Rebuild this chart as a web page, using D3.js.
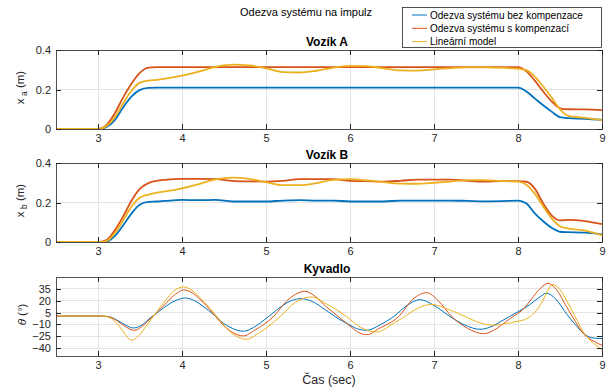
<!DOCTYPE html>
<html lang="cs">
<head>
<meta charset="UTF-8">
<title>Odezva systému na impulz</title>
<script src="https://d3js.org/d3.v7.min.js"></script>
<style>
  body { margin: 0; background: #fff; }
  text { font-family: "Liberation Sans", Arial, Helvetica, sans-serif; fill: #262626; }
</style>
</head>
<body>
<script>
// --- data ---
var seriesNames = ["Odezva systému bez kompenzace", "Odezva systému s kompenzací", "Lineární model"];
var seriesColors = ["#0072BD", "#D95319", "#EDB120"];

var xTicks = [3, 4, 5, 6, 7, 8, 9];
var cartTicks = [0, 0.2, 0.4];
var pendTicks = [-40, -25, -10, 5, 20, 35];

// time grid for both carts
var tCart = [2.5, 3.0, 3.1, 3.2, 3.3, 3.4, 3.5, 3.6, 3.7, 3.8,
             4.0, 4.2, 4.4, 4.6, 4.8, 5.0, 5.2, 5.4, 5.6, 5.8, 6.0, 6.2, 6.4, 6.6, 6.8,
             7.0, 7.2, 7.4, 7.6, 7.8, 8.0,
             8.1, 8.2, 8.3, 8.4, 8.5, 8.6, 8.8, 9.0];

// Vozík A
var xaBez  = [0, 0, 0.01, 0.045, 0.11, 0.165, 0.198, 0.208, 0.209, 0.209,
              0.209, 0.209, 0.209, 0.209, 0.209, 0.209, 0.209, 0.209, 0.209, 0.209, 0.209, 0.209, 0.209, 0.209, 0.209,
              0.209, 0.209, 0.209, 0.209, 0.209, 0.209,
              0.19, 0.155, 0.12, 0.088, 0.06, 0.055, 0.052, 0.046];
var xaKomp = [0, 0, 0.02, 0.08, 0.16, 0.23, 0.285, 0.311, 0.313, 0.313,
              0.313, 0.313, 0.313, 0.313, 0.313, 0.313, 0.313, 0.313, 0.313, 0.313, 0.313, 0.313, 0.313, 0.313, 0.313,
              0.313, 0.313, 0.313, 0.313, 0.313, 0.313,
              0.292, 0.245, 0.19, 0.14, 0.105, 0.1, 0.099, 0.096];
var xaLin  = [0, 0, 0.015, 0.06, 0.13, 0.195, 0.235, 0.245, 0.249, 0.255,
              0.27, 0.29, 0.315, 0.326, 0.322, 0.307, 0.288, 0.286, 0.295, 0.31, 0.32, 0.318, 0.307, 0.297, 0.296,
              0.302, 0.308, 0.312, 0.312, 0.31, 0.305,
              0.298, 0.265, 0.215, 0.16, 0.1, 0.066, 0.056, 0.045];

// Vozík B
var xbBez  = [0, 0, 0.002, 0.03, 0.085, 0.145, 0.19, 0.203, 0.205, 0.208,
              0.213, 0.212, 0.213, 0.205, 0.205, 0.205, 0.21, 0.212, 0.21, 0.21, 0.205, 0.205, 0.205, 0.21, 0.21,
              0.21, 0.21, 0.208, 0.206, 0.207, 0.209,
              0.195, 0.145, 0.105, 0.072, 0.052, 0.05, 0.047, 0.039];
var xbKomp = [0, 0, 0.01, 0.06, 0.13, 0.21, 0.27, 0.298, 0.31, 0.315,
              0.32, 0.32, 0.318, 0.31, 0.307, 0.306, 0.31, 0.318, 0.318, 0.318, 0.31, 0.308, 0.306, 0.31, 0.316,
              0.316, 0.316, 0.31, 0.306, 0.308, 0.308,
              0.305, 0.27, 0.195, 0.135, 0.11, 0.112, 0.106, 0.09];
var xbLin  = [0, 0, 0.005, 0.045, 0.11, 0.18, 0.225, 0.24, 0.25, 0.256,
              0.272, 0.293, 0.317, 0.326, 0.32, 0.303, 0.288, 0.288, 0.298, 0.315, 0.318, 0.312, 0.303, 0.296, 0.295,
              0.3, 0.306, 0.313, 0.313, 0.308, 0.306,
              0.29, 0.245, 0.18, 0.12, 0.08, 0.068, 0.058, 0.034];

// Kyvadlo (key points: extremes and crossings)
var thBezT = [2.5, 3.05, 3.15, 3.25, 3.33, 3.42, 3.52, 3.62, 3.72, 3.82, 3.92, 4.04, 4.15, 4.25, 4.38, 4.5, 4.6, 4.73,
              4.85, 5.03, 5.2, 5.3, 5.42, 5.55, 5.7, 5.82, 6.0, 6.1, 6.2, 6.35, 6.52, 6.68, 6.83, 7.0, 7.19, 7.37, 7.55,
              7.7, 7.8, 7.9, 8.0, 8.14, 8.25, 8.34, 8.45, 8.58, 8.68, 8.78, 8.88, 9.0];
var thBezV = [0.5, 0.5, -1, -6, -11, -14.5, -11, -2, 6, 14, 20, 23.4, 20, 13, 2, -9, -15, -18.7,
              -14, 0, 14, 20, 22.6, 19, 9, 0, -11, -16, -17.5, -11, 0, 14, 21.3, 14, 0, -11, -16.2,
              -12, -6, 0, 6, 15, 24, 29.5, 22, 3, -10, -21, -27, -28];
var thKompT = [2.5, 3.05, 3.15, 3.25, 3.33, 3.43, 3.53, 3.62, 3.72, 3.82, 3.92, 4.02, 4.12, 4.25, 4.4, 4.5, 4.6, 4.73,
               4.87, 5.09, 5.25, 5.35, 5.46, 5.58, 5.72, 5.86, 6.0, 6.1, 6.2, 6.35, 6.58, 6.75, 6.91, 7.05, 7.21, 7.4, 7.59,
               7.75, 7.85, 7.94, 8.05, 8.16, 8.26, 8.36, 8.45, 8.58, 8.68, 8.78, 8.88, 9.0];
var thKompV = [0.5, 0.5, -1, -7, -13, -17.5, -12, -3, 7, 18, 28, 33.6, 30, 18, 0, -12, -20, -24.6,
               -17, 0, 20, 28, 31.9, 26, 12, 0, -12, -20, -23, -15, 0, 22, 30.2, 20, 0, -15, -21.7,
               -15, -7, 0, 8, 22, 35, 42, 35, 12, -6, -22, -30, -36.5];
var thLinT = [2.5, 3.05, 3.15, 3.25, 3.32, 3.4, 3.48, 3.58, 3.7, 3.8, 3.9, 4.02, 4.12, 4.25, 4.4, 4.55, 4.65, 4.77,
              4.9, 5.17, 5.35, 5.54, 5.7, 5.96, 6.1, 6.32, 6.5, 6.65, 6.8, 6.97, 7.15, 7.37, 7.55, 7.71,
              7.85, 8.0, 8.1, 8.18, 8.25, 8.3, 8.35, 8.41, 8.5, 8.58, 8.68, 8.78, 8.9, 9.0];
var thLinV = [0.5, 0.5, -2, -12, -22, -30, -25, -11, 6, 20, 32, 37.4, 33, 20, 2, -17, -25, -28.9,
              -22, 0, 18, 24.7, 17, 0, -12, -19.6, -10, 0, 10, 15.4, 10, 0, -8, -11,
              -9, -6, -3, 3, 12, 21, 32, 40.5, 34, 20, 0, -20, -34, -42];

// --- layout ---
var w = 615, h = 391;
var left = 56, right = 602;

var svg = d3.select("body").append("svg")
    .attr("width", w)
    .attr("height", h);

var x = d3.scaleLinear().domain([2.5, 9]).range([left, right]);

function pts(t, v) { return t.map((d, i) => [d, v[i]]); }

var panels = [
    { top: 50, bottom: 129, domain: [0, 0.4], ticks: cartTicks, fmt: d3.format(".1~f"),
      title: "Vozík A", sub: "a", lw: 1.8,
      lines: [pts(tCart, xaBez), pts(tCart, xaKomp), pts(tCart, xaLin)] },
    { top: 163, bottom: 242, domain: [0, 0.4], ticks: cartTicks, fmt: d3.format(".1~f"),
      title: "Vozík B", sub: "b", lw: 1.8,
      lines: [pts(tCart, xbBez), pts(tCart, xbKomp), pts(tCart, xbLin)] },
    { top: 277, bottom: 356, domain: [-50, 50], ticks: pendTicks, fmt: d3.format("d"),
      title: "Kyvadlo", sub: null, lw: 1,
      lines: [pts(thBezT, thBezV), pts(thKompT, thKompV), pts(thLinT, thLinV)] }
];

panels.forEach(function(p, k) {
    var y = d3.scaleLinear().domain(p.domain).range([p.bottom, p.top]);
    var g = svg.append("g");
    var ph = p.bottom - p.top;

    // grid
    g.append("g").selectAll("line.gx").data(xTicks).join("line")
        .attr("x1", d => x(d)).attr("x2", d => x(d))
        .attr("y1", p.top).attr("y2", p.bottom)
        .attr("stroke", "#e3e3e3").attr("shape-rendering", "crispEdges");
    g.append("g").selectAll("line.gy").data(p.ticks).join("line")
        .attr("x1", left).attr("x2", right)
        .attr("y1", d => y(d)).attr("y2", d => y(d))
        .attr("stroke", "#e3e3e3").attr("shape-rendering", "crispEdges");

    // data
    g.append("clipPath").attr("id", "clip" + k)
        .append("rect").attr("x", left).attr("y", p.top)
        .attr("width", right - left).attr("height", ph);

    var line = d3.line()
        .x(d => x(d[0]))
        .y(d => y(d[1]))
        .curve(d3.curveMonotoneX);

    g.append("g").attr("clip-path", "url(#clip" + k + ")")
        .selectAll("path").data(p.lines).join("path")
        .attr("d", line)
        .attr("fill", "none")
        .attr("stroke", (d, i) => seriesColors[i])
        .attr("stroke-width", p.lw)
        .attr("stroke-linejoin", "round");

    // axes with inward ticks
    var ax = g.append("g").attr("transform", "translate(0," + p.bottom + ")")
        .call(d3.axisBottom(x).tickValues(xTicks).tickSize(-5).tickPadding(5).tickFormat(d3.format("d")));
    var axTop = g.append("g").attr("transform", "translate(0," + p.top + ")")
        .call(d3.axisTop(x).tickValues(xTicks).tickSize(-5).tickFormat(""));
    var ay = g.append("g").attr("transform", "translate(" + left + ",0)")
        .call(d3.axisLeft(y).tickValues(p.ticks).tickSize(-5).tickPadding(5).tickFormat(p.fmt));
    var ayR = g.append("g").attr("transform", "translate(" + right + ",0)")
        .call(d3.axisRight(y).tickValues(p.ticks).tickSize(-5).tickFormat(""));

    [ax, axTop, ay, ayR].forEach(function(a) {
        a.select(".domain").remove();
        a.selectAll("line").attr("stroke", "#262626").attr("shape-rendering", "crispEdges");
        a.selectAll("text").attr("font-size", 11).attr("fill", "#262626")
            .attr("font-family", "'Liberation Sans', Arial, sans-serif");
    });

    g.append("rect")
        .attr("x", left).attr("y", p.top)
        .attr("width", right - left).attr("height", ph)
        .attr("fill", "none").attr("stroke", "#262626").attr("stroke-width", 0.8)
        .attr("shape-rendering", "crispEdges");

    // subplot title
    g.append("text")
        .attr("x", 327).attr("y", p.top - 4)
        .attr("text-anchor", "middle")
        .attr("font-size", 12).attr("font-weight", "bold")
        .style("fill", "#000")
        .text(p.title);

    // y label
    var lab = g.append("text")
        .attr("transform", "translate(" + (p.sub ? 24 : 26) + "," + ((p.top + p.bottom) / 2 - 2) + ") rotate(-90)")
        .attr("text-anchor", "middle")
        .attr("font-size", 11.5);
    if (p.sub) {
        lab.append("tspan").text("x");
        lab.append("tspan").attr("font-size", 8.5).attr("dy", 3).text(" a".replace("a", p.sub));
        lab.append("tspan").attr("dy", -3).text(" (m)");
    } else {
        lab.append("tspan").attr("font-style", "italic").text("θ");
        lab.append("tspan").text(" (°)");
    }
});

// x label
svg.append("text")
    .attr("x", 329).attr("y", 384)
    .attr("text-anchor", "middle")
    .attr("font-size", 12.5)
    .text("Čas (sec)");

// main title
svg.append("text")
    .attr("x", 306).attr("y", 16)
    .attr("text-anchor", "middle")
    .attr("font-size", 11)
    .style("fill", "#000")
    .text("Odezva systému na impulz");

// legend
var leg = svg.append("g");
leg.append("rect")
    .attr("x", 402.5).attr("y", 7.5)
    .attr("width", 199).attr("height", 40)
    .attr("fill", "#fff").attr("stroke", "#262626").attr("stroke-width", 0.8);

var rows = leg.selectAll("g.row").data(seriesNames).join("g")
    .attr("transform", (d, i) => "translate(0," + (15 + i * 13.3) + ")");
rows.append("line")
    .attr("x1", 412).attr("x2", 427)
    .attr("stroke", (d, i) => seriesColors[i])
    .attr("stroke-width", 1);
rows.append("text")
    .attr("x", 430).attr("dy", "0.35em")
    .attr("font-size", 10)
    .style("fill", "#000")
    .text(d => d);
</script>
</body>
</html>
